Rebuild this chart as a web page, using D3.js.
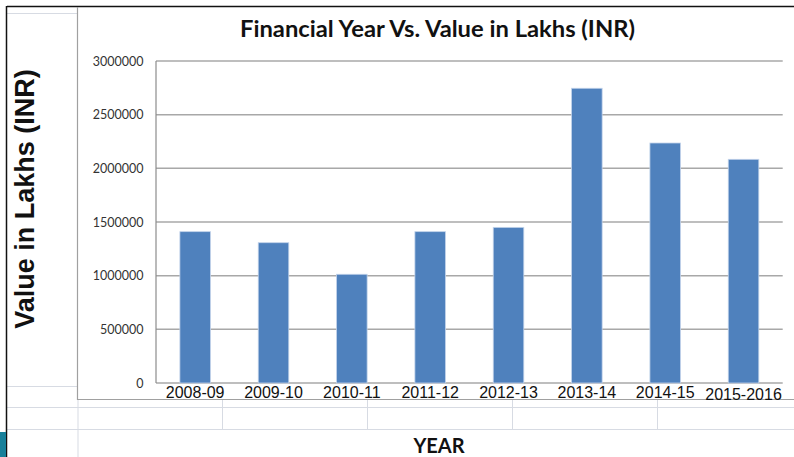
<!DOCTYPE html>
<html>
<head>
<meta charset="utf-8">
<script src="https://cdn.jsdelivr.net/npm/d3@7"></script>
<style>
  html, body { margin: 0; padding: 0; background: #fff; }
  svg { display: block; }
</style>
</head>
<body>
<div id="chart"></div>
<script>
const years = ['2008-09', '2009-10', '2010-11', '2011-12', '2012-13', '2013-14', '2014-15', '2015-2016'];
const values = [1410000, 1307000, 1013000, 1410000, 1450000, 2746000, 2236000, 2084000];
const yTicks = [0, 500000, 1000000, 1500000, 2000000, 2500000, 3000000];

const width = 794, height = 457;

const svg = d3.select('#chart').append('svg')
    .attr('width', width)
    .attr('height', height);

// spreadsheet background: grid lines of the sheet behind the chart
const sheet = svg.append('g').attr('stroke', '#d7dbe3').attr('stroke-width', 1);
sheet.append('line').attr('x1', 7).attr('x2', 77).attr('y1', 13.5).attr('y2', 13.5);
sheet.append('line').attr('x1', 7).attr('x2', 77).attr('y1', 386.5).attr('y2', 386.5);
[407.5, 429.5].forEach(y => {
  sheet.append('line').attr('x1', 7).attr('x2', width).attr('y1', y).attr('y2', y);
});
[222.5, 367.5, 512.5, 657.5].forEach(x => {
  sheet.append('line').attr('x1', x).attr('x2', x).attr('y1', 400).attr('y2', 429.5);
});
sheet.append('line').attr('x1', 78).attr('x2', 78).attr('y1', 400).attr('y2', height);

// window edge
svg.append('line').attr('x1', 7).attr('x2', width).attr('y1', 6.5).attr('y2', 6.5)
    .attr('stroke', '#111').attr('stroke-width', 1.5);
svg.append('line').attr('x1', 6.5).attr('x2', 6.5).attr('y1', 6).attr('y2', height)
    .attr('stroke', '#111').attr('stroke-width', 1.5);
svg.append('rect').attr('x', 0).attr('y', 432).attr('width', 6).attr('height', 25)
    .attr('fill', '#17809a');

// chart area border
svg.append('line').attr('x1', 77.5).attr('x2', 77.5).attr('y1', 7).attr('y2', 400)
    .attr('stroke', '#a0a0a0').attr('stroke-width', 1.2);
svg.append('line').attr('x1', 77.5).attr('x2', width).attr('y1', 399.5).attr('y2', 399.5)
    .attr('stroke', '#a0a0a0').attr('stroke-width', 1.2);

const x = d3.scaleBand()
    .domain(years)
    .range([156, 782.7])
    .paddingInner(0.61)
    .paddingOuter(0.305);

const y = d3.scaleLinear()
    .domain([0, 3000000])
    .range([383, 61]);

// gridlines
svg.append('g')
    .selectAll('line')
    .data(yTicks)
    .enter()
    .append('line')
    .attr('x1', 156)
    .attr('x2', 782.7)
    .attr('y1', d => y(d))
    .attr('y2', d => y(d))
    .attr('stroke', '#a8a8a8')
    .attr('stroke-width', 1.5);

// y axis line
svg.append('line').attr('x1', 156).attr('x2', 156).attr('y1', y(3000000)).attr('y2', y(0))
    .attr('stroke', '#8c8c8c').attr('stroke-width', 1.2);

// bars
svg.append('g')
    .selectAll('rect')
    .data(years)
    .enter()
    .append('rect')
    .attr('x', d => x(d))
    .attr('width', x.bandwidth())
    .attr('y', (d, i) => y(values[i]))
    .attr('height', (d, i) => y(0) - y(values[i]))
    .attr('fill', '#4f81bd')
    .attr('stroke', '#c2d3ea')
    .attr('stroke-width', 0.8);

// y tick labels
const yAxis = d3.axisLeft(y)
    .tickValues(yTicks)
    .tickFormat(d3.format('d'))
    .tickSize(0)
    .tickPadding(12.5);

svg.append('g')
    .attr('transform', 'translate(156,0)')
    .call(yAxis)
    .call(g => g.select('.domain').remove())
    .selectAll('text')
    .attr('font-family', 'Lato, "Open Sans", sans-serif')
    .attr('font-size', 12.5)
    .attr('fill', '#333');

// x category labels
svg.append('g')
    .selectAll('text')
    .data(years)
    .enter()
    .append('text')
    .attr('x', d => x(d) + x.bandwidth() / 2)
    .attr('y', d => d === '2015-2016' ? 399.5 : 397.5)
    .attr('text-anchor', 'middle')
    .attr('font-family', '"Liberation Sans", Arial, sans-serif')
    .attr('font-size', 16)
    .attr('fill', '#111')
    .text(d => d);

// title
svg.append('text')
    .attr('x', 437.5)
    .attr('y', 37)
    .attr('text-anchor', 'middle')
    .attr('font-family', 'Lato, sans-serif')
    .attr('font-weight', 'bold')
    .attr('font-size', 22)
    .attr('textLength', 395)
    .attr('lengthAdjust', 'spacingAndGlyphs')
    .attr('fill', '#111')
    .text('Financial Year Vs. Value in Lakhs (INR)');

// y axis title
svg.append('text')
    .attr('transform', 'translate(34,199) rotate(-90)')
    .attr('text-anchor', 'middle')
    .attr('font-family', '"Liberation Sans", Arial, sans-serif')
    .attr('font-weight', 'bold')
    .attr('font-size', 27)
    .attr('fill', '#111')
    .text('Value in Lakhs (INR)');

// x axis title
svg.append('text')
    .attr('x', 439)
    .attr('y', 453)
    .attr('text-anchor', 'middle')
    .attr('font-family', 'Lato, sans-serif')
    .attr('font-weight', 'bold')
    .attr('font-size', 20)
    .attr('fill', '#111')
    .text('YEAR');
</script>
</body>
</html>
